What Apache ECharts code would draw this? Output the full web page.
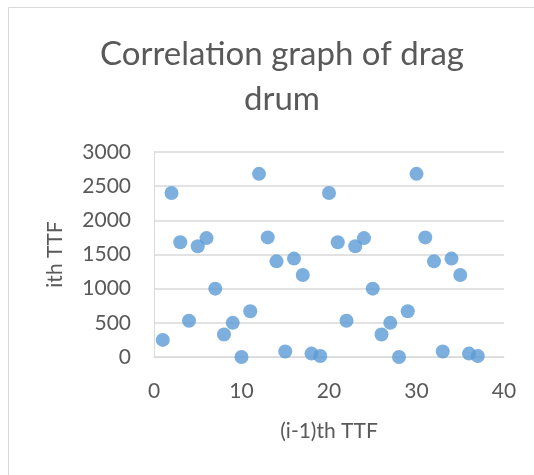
<!DOCTYPE html>
<html>
<head>
<meta charset="utf-8">
<script src="https://cdn.jsdelivr.net/npm/echarts@6/dist/echarts.min.js"></script>
<style>
html,body{margin:0;padding:0;background:#fff;}
#c{width:534px;height:475px;}
</style>
</head>
<body>
<div id="c"></div>
<script>
const xValues = [1,2,3,4,5,6,7,8,9,10,11,12,13,14,15,16,17,18,19,20,21,22,23,24,25,26,27,28,29,30,31,32,33,34,35,36,37];
const yValues = [250,2400,1680,530,1620,1740,1000,330,500,0,670,2680,1750,1400,80,1440,1200,50,15,2400,1680,530,1620,1740,1000,330,500,0,670,2680,1750,1400,80,1440,1200,50,15];
const titleText = "Correlation graph of drag\ndrum";
const xName = "(i-1)th TTF";
const yName = "ith TTF";

const pts = xValues.map((x, i) => [x, yValues[i]]);
const font = "Lato";
const chart = echarts.init(document.getElementById('c'), null, {renderer: 'canvas'});
chart.setOption({
  animation: false,
  backgroundColor: '#ffffff',
  graphic: [{
    type: 'rect', shape: {x: 8.5, y: 7.5, width: 600, height: 600},
    style: {fill: 'none', stroke: '#D9D9D9', lineWidth: 1}, silent: true
  }],
  title: {
    text: titleText,
    left: 277, top: 27, textAlign: 'center',
    textStyle: {fontFamily: font, fontSize: 33, fontWeight: 'normal', color: '#595959', lineHeight: 45}
  },
  grid: {left: 154, right: 30, top: 152, bottom: 118, containLabel: false},
  xAxis: {
    type: 'value', min: 0, max: 40, interval: 10,
    name: xName, nameLocation: 'middle', nameGap: 64,
    nameTextStyle: {fontFamily: font, fontSize: 21, color: '#595959'},
    axisLine: {show: true, lineStyle: {color: '#D9D9D9', width: 1}},
    axisTick: {show: false},
    splitLine: {show: false},
    axisLabel: {fontFamily: font, fontSize: 21, color: '#595959', margin: 24, formatter: v => String(v)}
  },
  yAxis: {
    type: 'value', min: 0, max: 3000, interval: 500,
    name: yName, nameLocation: 'middle', nameGap: 88, nameRotate: 90,
    nameTextStyle: {fontFamily: font, fontSize: 21, color: '#595959'},
    axisLine: {show: true, lineStyle: {color: '#D9D9D9', width: 1}},
    axisTick: {show: false},
    splitLine: {show: true, lineStyle: {color: '#D9D9D9', width: 1.5}},
    axisLabel: {fontFamily: font, fontSize: 21, color: '#595959', margin: 23, formatter: v => String(v)}
  },
  series: [{
    type: 'scatter',
    data: pts,
    symbol: 'circle',
    symbolSize: 14,
    itemStyle: {color: '#5B9BD5'}
  }]
});
</script>
</body>
</html>
